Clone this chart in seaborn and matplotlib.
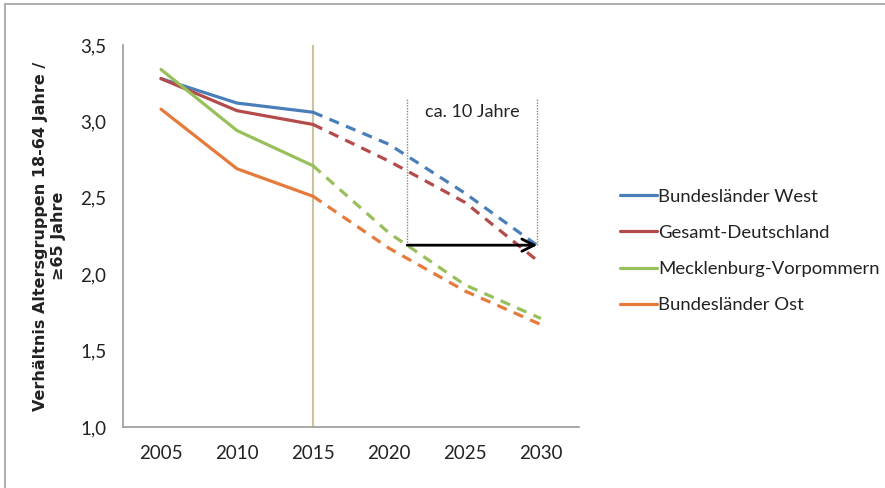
import numpy as np
import pandas as pd
import matplotlib
matplotlib.use("Agg")
import matplotlib.pyplot as plt
from matplotlib.lines import Line2D
import seaborn as sns

# ---- data ----
years = ["2005", "2010", "2015", "2020", "2025", "2030"]
series_names = ["Bundesländer West", "Gesamt-Deutschland",
                "Mecklenburg-Vorpommern", "Bundesländer Ost"]
west = [3.28, 3.12, 3.06, 2.85, 2.53, 2.17]
gesamt = [3.28, 3.07, 2.98, 2.74, 2.47, 2.07]
mv = [3.34, 2.94, 2.71, 2.27, 1.93, 1.71]
ost = [3.08, 2.69, 2.51, 2.17, 1.89, 1.67]
last_observed = 2  # index of 2015, after that: projection (dashed)

# annotation "ca. 10 Jahre": MV reaches 2.2 around 2021, West around 2030
arrow_level = 2.19
arrow_from = 3.24
arrow_to = 4.95

colors = ["#4a7ebb", "#b54a4a", "#98c05a", "#e57a3a"]
palette = dict(zip(series_names, colors))

rows = []
for name, vals in zip(series_names, [west, gesamt, mv, ost]):
    for i, v in enumerate(vals):
        rows.append({"serie": name, "pos": i, "jahr": years[i], "wert": v})
df = pd.DataFrame(rows)
solid = df[df["pos"] <= last_observed]
dashed = df[df["pos"] >= last_observed]

sns.set_style("white")
plt.rcParams["font.family"] = ["Lato", "DejaVu Sans"]

fig = plt.figure(figsize=(8.85, 4.88), dpi=100)
ax = fig.add_axes([123 / 885, 61 / 488, 456 / 885, 382 / 488])

sns.lineplot(data=solid, x="pos", y="wert", hue="serie", hue_order=series_names,
             palette=palette, lw=2.3, legend=False, ax=ax, sort=True)
sns.lineplot(data=dashed, x="pos", y="wert", hue="serie", hue_order=series_names,
             palette=palette, lw=2.3, ls=(0, (3.2, 2.4)), legend=False, ax=ax, sort=True)

# vertical marker at 2015
ax.axvline(last_observed, color="#c9c49c", lw=1.5, zorder=0)

# "ca. 10 Jahre" bracket
ax.vlines([arrow_from, arrow_to], arrow_level, 3.15, colors="#8c8c70",
          linestyles=(0, (1, 1)), lw=1)
ax.annotate("", xy=(arrow_to, arrow_level), xytext=(arrow_from, arrow_level),
            arrowprops=dict(arrowstyle="->", lw=2, color="black", mutation_scale=22,
                            shrinkA=0, shrinkB=0))
ax.text((arrow_from + arrow_to) / 2, 3.06, "ca. 10 Jahre", ha="center", va="center",
        fontsize=13, color="#222222")

# axes like the Excel original
ax.set_xlim(-0.5, len(years) - 0.5)
ax.set_ylim(1.0, 3.5)
ax.set_xticks(range(len(years)))
ax.set_xticklabels(years)
ax.set_xticks(np.arange(-0.5, len(years)), minor=True)
ax.tick_params(axis="x", which="major", length=0, pad=13, labelsize=13.5,
               labelcolor="#222222")
ax.tick_params(axis="x", which="minor", length=5, direction="out", color="#9a9a9a", width=1)
yt = np.arange(1.0, 3.51, 0.5)
ax.set_yticks(yt)
ax.set_yticklabels([f"{v:.1f}".replace(".", ",") for v in yt])
ax.tick_params(axis="y", length=5, direction="out", color="#9a9a9a", pad=7,
               labelsize=13.5, labelcolor="#222222")
for s in ["top", "right"]:
    ax.spines[s].set_visible(False)
for s in ["left", "bottom"]:
    ax.spines[s].set_color("#9a9a9a")
    ax.spines[s].set_linewidth(1.2)
ax.set_xlabel("")
ax.set_ylabel("Verhältnis Altersgruppen 18-64 Jahre /\n≥65 Jahre", fontsize=11.5,
              fontweight="bold", family="DejaVu Sans", color="#222222",
              linespacing=1.25)
ax.yaxis.set_label_coords(-0.124, 0.5)

handles = [Line2D([], [], color=c, lw=2.3) for c in colors]
fig.legend(handles, series_names, loc="center left",
           bbox_to_anchor=(603 / 885, 1 - 251 / 488), frameon=False,
           fontsize=13.3, handlelength=2.0, handletextpad=0.1, labelspacing=1.1,
           labelcolor="#222222")

# thin frame at the left and top like the screenshot
fig.add_artist(Line2D([4.5 / 885, 4.5 / 885], [0, 1 - 4 / 488], color="#b0b0b0", lw=1.5))
fig.add_artist(Line2D([4.5 / 885, 1], [1 - 4 / 488, 1 - 4 / 488], color="#b0b0b0", lw=1.5))

fig.savefig("out.png", dpi=100, facecolor="white")
